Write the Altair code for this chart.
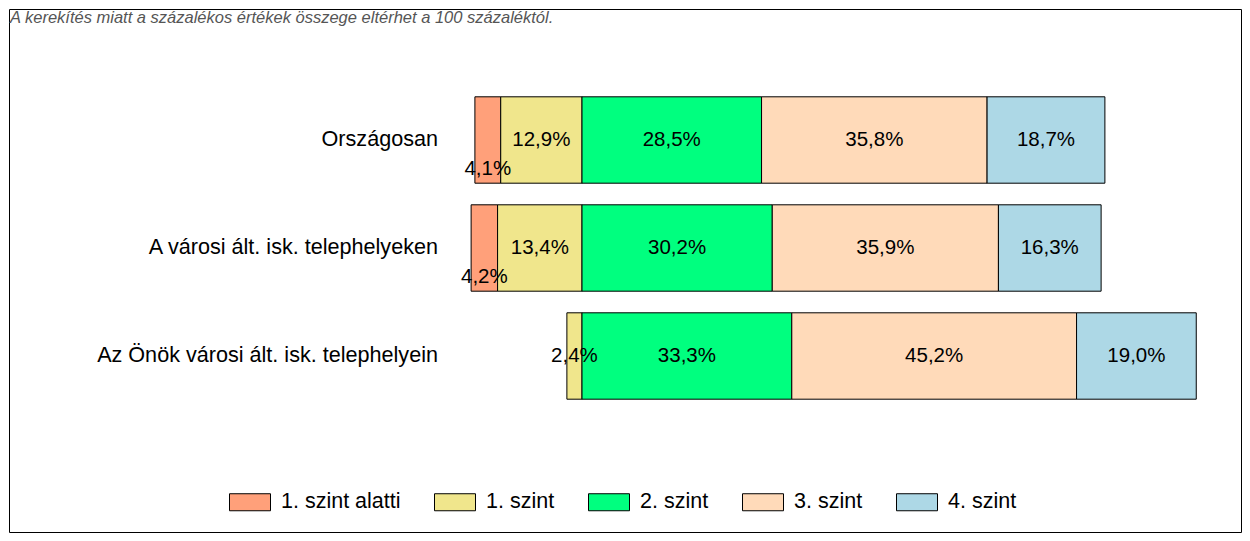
import altair as alt
import pandas as pd

FONT = "Liberation Sans"

rows = ["Országosan", "A városi ált. isk. telephelyeken", "Az Önök városi ált. isk. telephelyein"]
levels = ["1. szint alatti", "1. szint", "2. szint", "3. szint", "4. szint"]
colors = ["#FFA07A", "#F0E68C", "#00FF7F", "#FFDAB9", "#ADD8E6"]

below1 = [4.1, 4.2, 0.0]
lvl1 = [12.9, 13.4, 2.4]
lvl2 = [28.5, 30.2, 33.3]
lvl3 = [35.8, 35.9, 45.2]
lvl4 = [18.7, 16.3, 19.0]

note = "A kerekítés miatt a  százalékos értékek összege eltérhet a 100 százaléktól."

# build segments, diverging at the 1. szint / 2. szint boundary
recs = []
for i, r in enumerate(rows):
    vals = [below1[i], lvl1[i], lvl2[i], lvl3[i], lvl4[i]]
    pos = -(vals[0] + vals[1])
    for lev, v in zip(levels, vals):
        if v > 0:
            recs.append({
                "row": r, "level": lev, "value": v,
                "start": pos, "end": pos + v, "mid": pos + v / 2,
                "label": f"{v:.1f}%".replace(".", ","),
            })
        pos += v
df = pd.DataFrame(recs)
rows_df = pd.DataFrame({"row": rows})
note_df = pd.DataFrame({"note": [note]})

W, H = 1232, 523
PX = 6.3
X0 = 573
xscale = alt.Scale(domain=[-X0 / PX, (W - X0) / PX], nice=False, zero=False)
yscale = alt.Scale(domain=rows, range=[77, 401], paddingInner=0.2, paddingOuter=0.1)

Y = alt.Y("row:N", scale=yscale, axis=None, sort=rows)

bars = alt.Chart(df).mark_bar(stroke="black", strokeWidth=1, opacity=1).encode(
    y=Y,
    x=alt.X("start:Q", scale=xscale, axis=None),
    x2="end:Q",
    color=alt.Color(
        "level:N",
        sort=levels,
        scale=alt.Scale(domain=levels, range=colors),
        legend=alt.Legend(
            title=None, orient="none", legendX=220, legendY=472,
            direction="horizontal", columns=5,
            symbolType="M-1,-0.415L1,-0.415L1,0.415L-1,0.415Z",
            symbolSize=1681, symbolStrokeColor="black", symbolStrokeWidth=1,
            symbolOpacity=1,
            labelFontSize=21.5, labelFont=FONT, labelColor="black",
            labelOffset=10, columnPadding=31, labelLimit=400, padding=0,
        ),
    ),
)

labels = alt.Chart(df).transform_filter(
    alt.datum.level != "1. szint alatti"
).mark_text(font=FONT, fontSize=20.5, color="black", baseline="middle", align="center").encode(
    y=Y, x=alt.X("mid:Q", scale=xscale, axis=None), text="label:N"
)

small_labels = alt.Chart(df).transform_filter(
    alt.datum.level == "1. szint alatti"
).mark_text(font=FONT, fontSize=20.5, color="black", baseline="middle", align="center", dy=29).encode(
    y=Y, x=alt.X("mid:Q", scale=xscale, axis=None), text="label:N"
)

row_labels = alt.Chart(rows_df).mark_text(
    font=FONT, fontSize=21.6, color="black", align="right", baseline="middle"
).encode(y=Y, x=alt.value(429), text="row:N")

note_text = alt.Chart(note_df).mark_text(
    font=FONT, fontSize=16.5, fontStyle="italic", color="#555555",
    align="left", baseline="alphabetic",
).encode(x=alt.value(1), y=alt.value(14), text="note:N")

chart = alt.layer(bars, labels, small_labels, row_labels, note_text).properties(
    width=W, height=H,
    autosize=alt.AutoSizeParams(type="none"),
    padding=1,
).configure_view(stroke="black", strokeWidth=1)

chart.save("out.html", embed_options={"renderer": "svg", "actions": False})
